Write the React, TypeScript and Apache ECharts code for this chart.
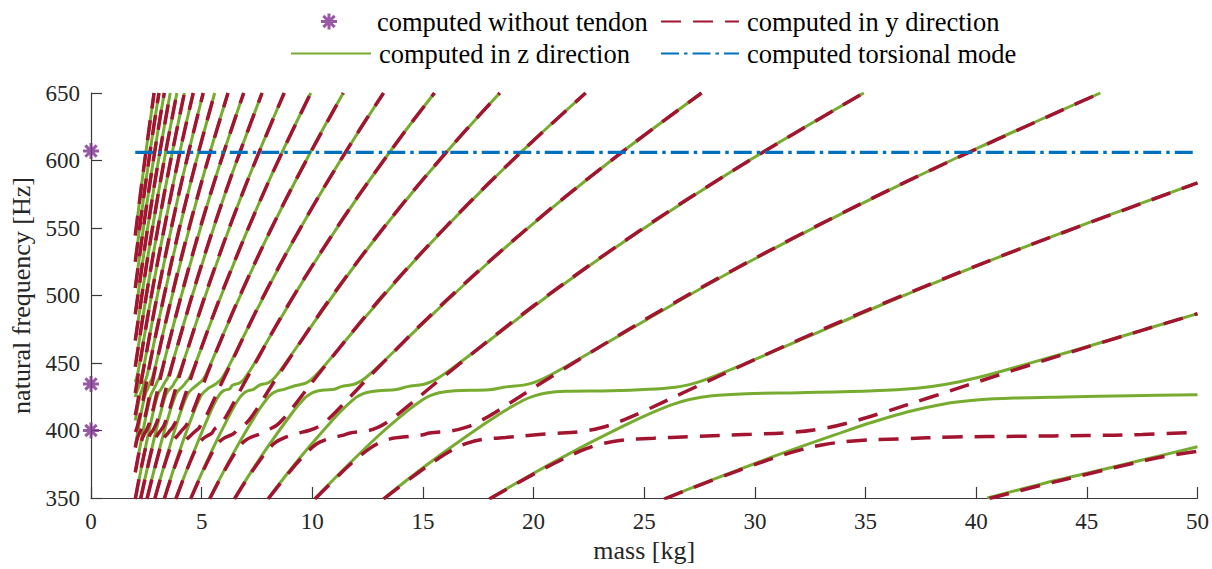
import React, { useEffect, useRef } from "react";
import * as echarts from "echarts";

const FONT = "'Times New Roman', 'Liberation Serif', 'DejaVu Serif', serif";
const GREEN = "#77AC30";
const RED = "#A2142F";
const BLUE = "#0072BD";
const PURPLE = "#7E2F8E";

const NAME_FREE = "computed without tendon";
const NAME_Y = "computed in y direction";
const NAME_Z = "computed in z direction";
const NAME_T = "computed torsional mode";

// natural frequencies of the beam alone [Hz], plotted at mass 0
const freeFrequencies = [400, 434.5, 607];

// torsional mode, independent of the mass
const torsionMass = [2, 50];
const torsionFrequency = 606;

// higher string harmonics that never meet the beam modes (same in y and z)
const sharedHarmonics: number[][][] = [
  [[2, 447.3], [2.5, 500.0], [3, 547.8], [3.6, 600.1], [4.22, 650]],
  [[2, 466.7], [2.5, 521.8], [3, 571.6], [3.4, 608.5], [3.88, 650]],
  [[2, 486.1], [2.5, 543.5], [3, 595.4], [3.58, 650]],
  [[2, 505.6], [2.5, 565.3], [3, 619.2], [3.31, 650]],
  [[2, 525.0], [2.4, 575.1], [2.8, 621.2], [3.07, 650]],
  [[2, 544.5], [2.4, 596.4], [2.85, 650]],
];

// z direction branches [mass kg, frequency Hz]
const zBranches: number[][][] = [
  [[40.5, 350], [43, 360.6], [45, 368.3], [47.5, 378.1], [50, 388.0]],
  [[25.9, 349.2], [28, 363.0], [31, 381.7], [34, 399.0], [35.3, 406.1], [36.88, 413.7], [38.49, 419.5], [40.13, 422.7], [41.8, 424.1], [44, 424.9], [47, 425.8], [50, 426.5]],
  [[18.0, 349.3], [20, 368.3], [22, 386.2], [24, 402.8], [25.18, 411.9], [26.29, 419.3], [27.04, 423], [28.06, 425.8], [29.62, 427.3], [32, 428.0], [35.39, 429.4], [37.32, 431.3], [38.58, 434], [40.22, 439.8], [42.27, 449.2], [45, 462.0], [47.5, 474.3], [50, 486.6]],
  [[13.22, 349.5], [15, 372.4], [17, 396.1], [18.64, 414.0], [19.54, 422.4], [20.0, 425.5], [20.57, 427.7], [21.42, 429.0], [23.5, 429.4], [25.18, 430.5], [26.41, 432.1], [27.04, 434], [27.67, 437.1], [28.96, 445.5], [32, 466.7], [36, 495.0], [40, 521.8], [45, 553.4], [50, 583.4]],
  [[10.12, 349.6], [11.5, 372.6], [13, 396.3], [14.3, 414.5], [15.0, 422.9], [15.35, 426], [15.78, 428.2], [16.44, 429.5], [18, 430.2], [18.64, 432.0], [19.54, 433.6], [20.0, 435.5], [20.47, 438.6], [21.42, 447.0], [24, 471.5], [28, 509.3], [32, 544.5], [36, 577.5], [40, 608.7], [45.61, 650]],
  [[8.0, 349.6], [9.5, 380.9], [11, 409.3], [11.3, 414.5], [11.85, 422.9], [12.13, 426], [12.47, 428.2], [12.99, 429.5], [13.8, 430.3], [14.3, 432.5], [15.0, 434.1], [15.35, 436], [15.71, 439.1], [16.44, 447.5], [18, 466.7], [21, 504.1], [24, 538.9], [28, 582.1], [31, 612.5], [34.92, 650]],
  [[6.48, 349.6], [7.2, 368.4], [8, 388.3], [9.18, 415.0], [9.62, 423.4], [9.85, 426.5], [10.12, 428.7], [10.55, 430.0], [11.0, 430.6], [11.3, 432.5], [11.85, 434.1], [12.13, 436], [12.41, 439.1], [12.99, 447.5], [15, 479.3], [18, 525.0], [21, 567.1], [24, 606.3], [27.59, 650]],
  [[5.36, 349.6], [6.5, 385.1], [7.6, 415.5], [7.97, 423.9], [8.16, 427], [8.39, 429.2], [8.73, 430.5], [9.18, 433.0], [9.62, 434.6], [9.85, 436.5], [10.08, 439.6], [10.55, 448.0], [12, 476.3], [14, 514.5], [16, 550.0], [18, 583.4], [20, 614.9], [22.35, 650]],
  [[4.5, 349.6], [5.5, 386.4], [6.39, 415.5], [6.7, 423.9], [6.86, 427], [7.05, 429.2], [7.34, 430.5], [7.6, 433.5], [7.97, 435.1], [8.16, 437], [8.35, 440.1], [8.73, 448.5], [10, 478.3], [12, 523.9], [14, 565.9], [16, 605.0], [18.47, 650]],
  [[3.83, 349.6], [4.8, 390.4], [5.46, 416.0], [5.72, 424.4], [5.85, 427.5], [6.02, 429.7], [6.27, 431.0], [6.39, 433.5], [6.7, 435.1], [6.86, 437], [7.01, 440.1], [7.34, 448.5], [8.5, 481.1], [10, 521.8], [12, 571.6], [14, 617.4], [15.52, 650]],
  [[3.31, 349.6], [4.1, 389.4], [4.7, 416.0], [4.93, 424.4], [5.05, 427.5], [5.19, 429.7], [5.35, 431.8], [5.6, 434.0], [5.72, 435.6], [5.85, 437.5], [5.99, 440.6], [6.27, 449.0], [7.5, 489.5], [9, 536.3], [11, 592.8], [13.22, 650]],
  [[2.88, 349.6], [3.6, 390.5], [4.11, 416.5], [4.31, 424.9], [4.41, 428], [4.53, 430.2], [4.72, 432.8], [4.93, 435.6], [5.05, 437.5], [5.17, 440.6], [5.4, 449.0], [6.5, 490.8], [8, 544.5], [10, 608.7], [11.4, 650]],
  [[2.53, 349.6], [3.2, 392.8], [3.61, 416.5], [3.79, 424.9], [3.87, 428], [3.98, 430.2], [4.15, 432.8], [4.31, 436.1], [4.41, 438], [4.51, 441.1], [4.72, 449.5], [5.5, 483.7], [7, 545.7], [8.5, 601.3], [9.93, 650]],
  [[2.24, 349.6], [2.8, 390.3], [3.2, 416.5], [3.35, 424.9], [3.43, 428], [3.53, 430.2], [3.68, 432.8], [3.79, 436.1], [3.87, 438], [3.96, 441.1], [4.15, 449.5], [5, 491.9], [6.5, 560.9], [7.6, 606.5], [8.73, 650]],
  [[2, 349.6], [2.5, 390.5], [2.85, 416.5], [2.99, 424.9], [3.06, 428], [3.15, 430.2], [3.25, 433.1], [3.35, 436.1], [3.43, 438], [3.51, 441.1], [3.67, 449.5], [4.5, 495.9], [6, 572.6], [7.73, 650]],
  [[2, 369.1], [2.4, 403.8], [2.56, 416.5], [2.68, 424.9], [2.75, 428], [2.82, 430.2], [2.92, 433.3], [2.99, 436.1], [3.06, 438], [3.13, 441.1], [3.28, 449.5], [4, 495.0], [5.5, 580.4], [6.9, 650]],
  [[2, 388.4], [2.15, 402.4], [2.31, 416.5], [2.42, 424.9], [2.48, 428], [2.55, 430.2], [2.62, 433.2], [2.68, 436.1], [2.75, 438], [2.81, 441.1], [2.94, 449.5], [3.5, 488.8], [5, 584.2], [6.19, 650]],
  [[2, 407.4], [2.1, 416.5], [2.2, 424.9], [2.25, 428], [2.31, 430.2], [2.36, 433.0], [2.42, 436.1], [2.48, 438], [2.54, 441.1], [2.65, 449.5], [3.2, 491.9], [4.4, 576.8], [5.59, 650]],
  [[2, 424.8], [2.05, 428], [2.12, 430.5], [2.17, 433.0], [2.2, 436.1], [2.25, 438], [2.3, 441.1], [2.41, 449.5], [3, 500.1], [4, 577.5], [5.07, 650]],
  [[2, 436.0], [2.1, 441.4], [2.25, 454.9], [3, 523.9], [4, 605.0], [4.62, 650]],
];

// y direction branches [mass kg, frequency Hz]
const yBranches: number[][][] = [
  [[40.6, 349.6], [43, 359.7], [45, 367.6], [47, 375.4], [48.5, 380.7], [50, 384.6]],
  [[25.9, 349.2], [28, 362.7], [30.63, 378.4], [32.1, 385.8], [33.09, 389.5], [34.45, 392.3], [36.53, 393.8], [39, 395.2], [42, 395.7], [45, 396.3], [47.5, 397.0], [50, 398.8]],
  [[18.0, 349.2], [20, 367.7], [21.33, 378.9], [22.35, 386.3], [23.04, 390], [23.98, 392.8], [25.43, 394.3], [27, 395.4], [29.83, 397.2], [31.77, 398.7], [33.09, 401.5], [34.11, 405.2], [35.65, 412.6], [38, 425.0], [42, 446.3], [46, 466.8], [50, 486.5]],
  [[13.22, 349.2], [14.5, 365.3], [15.71, 379.4], [16.46, 386.8], [16.97, 390.5], [17.66, 393.3], [18.73, 394.8], [20, 396.7], [20.77, 397.7], [22.12, 399.2], [23.04, 402], [23.74, 405.7], [24.82, 413.1], [27, 429.8], [31, 460.0], [36, 495.5], [42, 534.7], [50, 583.4]],
  [[10.12, 349.2], [11.3, 368.5], [12.03, 379.4], [12.6, 386.8], [12.99, 390.5], [13.52, 393.8], [14.34, 395.6], [15, 396.8], [15.3, 398.2], [16.29, 399.7], [16.97, 402.5], [17.49, 406.2], [18.28, 413.6], [21, 441.9], [26, 491.3], [32, 544.8], [38, 593.3], [45.61, 650]],
  [[8.0, 349.2], [9, 369.9], [9.53, 379.9], [9.98, 387.3], [10.29, 391], [10.71, 393.8], [11.36, 396.4], [11.72, 398.2], [12.47, 399.7], [12.99, 402.5], [13.39, 406.2], [13.99, 413.6], [16, 440.8], [20, 492.4], [25, 550.3], [30, 602.5], [34.92, 650]],
  [[6.48, 349.2], [7, 362.8], [7.74, 380.4], [8.11, 387.8], [8.36, 391.5], [8.7, 394.3], [9.25, 397.5], [9.88, 400.2], [10.29, 403], [10.61, 406.7], [11.08, 414.1], [13, 447.0], [16, 495.5], [20, 553.7], [24, 606.3], [27.59, 650]],
  [[5.36, 349.2], [5.9, 366.3], [6.41, 380.9], [6.72, 388.3], [6.92, 392], [7.2, 394.8], [7.64, 397.4], [8.02, 400.7], [8.36, 403.5], [8.61, 407.2], [9.0, 414.6], [10.5, 446.3], [13, 496.3], [16, 550.3], [19, 599.5], [22.35, 650]],
  [[4.5, 349.2], [5, 367.8], [5.39, 380.9], [5.64, 388.3], [5.82, 392], [6.06, 394.8], [6.42, 397.4], [6.65, 401.2], [6.92, 404], [7.14, 407.7], [7.46, 415.1], [8.5, 441.8], [11, 502.1], [14, 566.2], [16.5, 614.4], [18.47, 650]],
  [[3.83, 349.2], [4.3, 369.5], [4.6, 381.4], [4.82, 388.8], [4.97, 392.5], [5.17, 395.3], [5.45, 397.9], [5.59, 401.2], [5.82, 404], [6.0, 407.7], [6.27, 415.1], [7, 437.4], [9, 495.5], [11.5, 559.8], [14, 617.4], [15.52, 650]],
  [[3.31, 349.2], [3.7, 369.1], [3.98, 381.9], [4.17, 389.3], [4.3, 393], [4.47, 395.8], [4.75, 400.0], [4.88, 401.8], [4.97, 404.5], [5.12, 408.2], [5.35, 415.6], [6, 438.6], [8, 506.0], [10, 565.3], [12, 619.2], [13.22, 650]],
  [[2.88, 349.2], [3.2, 367.8], [3.47, 381.9], [3.63, 389.3], [3.74, 393], [3.89, 395.8], [4.05, 399.0], [4.2, 401.8], [4.3, 403.8], [4.43, 407.8], [4.63, 415.3], [5.5, 452.2], [7, 509.7], [9, 577.5], [11.4, 650]],
  [[2.53, 349.2], [2.8, 367.0], [3.05, 382.5], [3.19, 390.3], [3.29, 394.2], [3.42, 397.0], [3.55, 399.6], [3.65, 401.4], [3.74, 403.8], [3.86, 407.8], [4.03, 415.3], [4.8, 452.5], [6, 505.6], [8, 583.4], [9.93, 650]],
  [[2.24, 349.1], [2.45, 364.7], [2.7, 382.8], [2.83, 390.4], [2.91, 394.3], [3.03, 397.4], [3.13, 399.6], [3.2, 401.2], [3.29, 403.6], [3.4, 408.1], [3.56, 416.2], [4.2, 451.5], [5.5, 516.3], [7, 582.1], [8.73, 650]],
  [[2.0, 349.2], [2.2, 366.7], [2.4, 382.4], [2.52, 390.5], [2.6, 394.5], [2.7, 397.8], [2.8, 400.1], [2.91, 403.6], [3.0, 407.4], [3.15, 416.0], [3.8, 456.3], [5, 523.1], [6.3, 586.7], [7.73, 650]],
  [[2.0, 369.0], [2.15, 382.1], [2.25, 389.8], [2.33, 394.6], [2.42, 397.9], [2.5, 400.0], [2.6, 403.7], [2.68, 407.6], [2.82, 416.6], [3.4, 457.0], [4.6, 531.2], [5.7, 590.9], [6.9, 650]],
  [[2.0, 387.3], [2.1, 394.4], [2.2, 398.5], [2.27, 400.8], [2.33, 403.4], [2.4, 407.2], [2.53, 416.5], [3, 453.1], [4, 522.9], [5, 584.2], [6.19, 650]],
  [[2.0, 398.9], [2.05, 400.7], [2.1, 403.3], [2.16, 407.7], [2.26, 414.5], [2.8, 460.8], [3.8, 536.5], [4.7, 596.2], [5.59, 650]],
  [[2.0, 411.3], [2.1, 420.1], [2.3, 438.9], [3, 500.6], [4, 577.5], [5.07, 650]],
  [[2, 427.8], [2.5, 478.3], [3, 523.9], [4, 605.0], [4.62, 650]],
];

// eight-armed asterisk marker
const STAR =
  "path://M6.5 0H9.5V16H6.5Z M0 6.5H16V9.5H0Z M3.4 1.28L14.72 12.6L12.6 14.72L1.28 3.4Z M12.6 1.28L14.72 3.4L3.4 14.72L1.28 12.6Z";

const RED_DASH = [20, 12];
const BLUE_DASH_DOT = [18, 5, 3.5, 5];

function lineSeries(name: string, data: number[][], color: string, width: number, type: any) {
  return {
    type: "line",
    name,
    data,
    symbol: "none",
    showSymbol: false,
    smooth: 0.35,
    silent: true,
    lineStyle: { color, width, type },
    itemStyle: { color },
  };
}

function buildOption() {
  const zSeries = [...zBranches, ...sharedHarmonics].map((d) => lineSeries(NAME_Z, d, GREEN, 3, "solid"));
  const ySeries = [...yBranches, ...sharedHarmonics].map((d) => lineSeries(NAME_Y, d, RED, 3.5, RED_DASH));
  const torsion = {
    ...lineSeries(NAME_T, torsionMass.map((m) => [m, torsionFrequency]), BLUE, 3.3, BLUE_DASH_DOT),
    smooth: false,
  };
  const stars = {
    type: "scatter",
    name: NAME_FREE,
    data: freeFrequencies.map((f) => [0, f]),
    symbol: STAR,
    symbolSize: 16,
    clip: false,
    silent: true,
    itemStyle: { color: PURPLE },
    z: 5,
  };

  const legendText = { fontFamily: FONT, fontSize: 26.5, color: "#000", padding: [0, 0, 0, 3] };
  const legendBase = {
    orient: "horizontal",
    padding: 0,
    itemGap: 0,
    itemHeight: 16,
    selectedMode: false,
    textStyle: legendText,
  };
  // line entries: hide the marker ECharts puts in the middle of the line icon
  const noMarker = { opacity: 0, color: "rgba(0,0,0,0)" };

  const axisColor = "#3a3a3a";
  const labelStyle = { fontFamily: FONT, fontSize: 23, color: "#262626" };

  return {
    animation: false,
    backgroundColor: "#fff",
    textStyle: { fontFamily: FONT },
    grid: { left: 91, right: 13, top: 93, bottom: 71, containLabel: false },
    legend: [
      { ...legendBase, left: 321, top: 8, itemWidth: 80, data: [{ name: NAME_FREE, icon: STAR }] },
      { ...legendBase, left: 660, top: 8, itemWidth: 78, data: [{ name: NAME_Y, itemStyle: noMarker }] },
      { ...legendBase, left: 290, top: 40, itemWidth: 80, data: [{ name: NAME_Z, itemStyle: noMarker }] },
      { ...legendBase, left: 660, top: 40, itemWidth: 78, data: [{ name: NAME_T, itemStyle: noMarker }] },
    ],
    xAxis: {
      type: "value",
      min: 0,
      max: 50,
      interval: 5,
      name: "mass [kg]",
      nameLocation: "middle",
      nameGap: 35,
      nameTextStyle: { fontFamily: FONT, fontSize: 26, color: "#262626" },
      axisLine: { show: true, lineStyle: { color: axisColor, width: 1.2 } },
      axisTick: { show: true, inside: true, length: 11, lineStyle: { color: axisColor, width: 1.2 } },
      axisLabel: { ...labelStyle, margin: 12 },
      splitLine: { show: false },
    },
    yAxis: {
      type: "value",
      min: 350,
      max: 650,
      interval: 50,
      name: "natural frequency [Hz]",
      nameLocation: "middle",
      nameGap: 52,
      nameTextStyle: { fontFamily: FONT, fontSize: 26, color: "#262626" },
      axisLine: { show: true, lineStyle: { color: axisColor, width: 1.2 } },
      axisTick: { show: true, inside: true, length: 11, lineStyle: { color: axisColor, width: 1.2 } },
      axisLabel: { ...labelStyle, margin: 11 },
      splitLine: { show: false },
    },
    series: [...zSeries, ...ySeries, torsion, stars],
  };
}

export default function App() {
  const ref = useRef<HTMLDivElement>(null);
  useEffect(() => {
    if (!ref.current) return;
    const chart = echarts.init(ref.current, undefined, { renderer: "svg" });
    chart.setOption(buildOption() as any);
    return () => chart.dispose();
  }, []);
  return (
    <div
      ref={ref}
      style={{ position: "absolute", left: 0, top: 0, width: 1212, height: 569, background: "#fff" }}
    />
  );
}
